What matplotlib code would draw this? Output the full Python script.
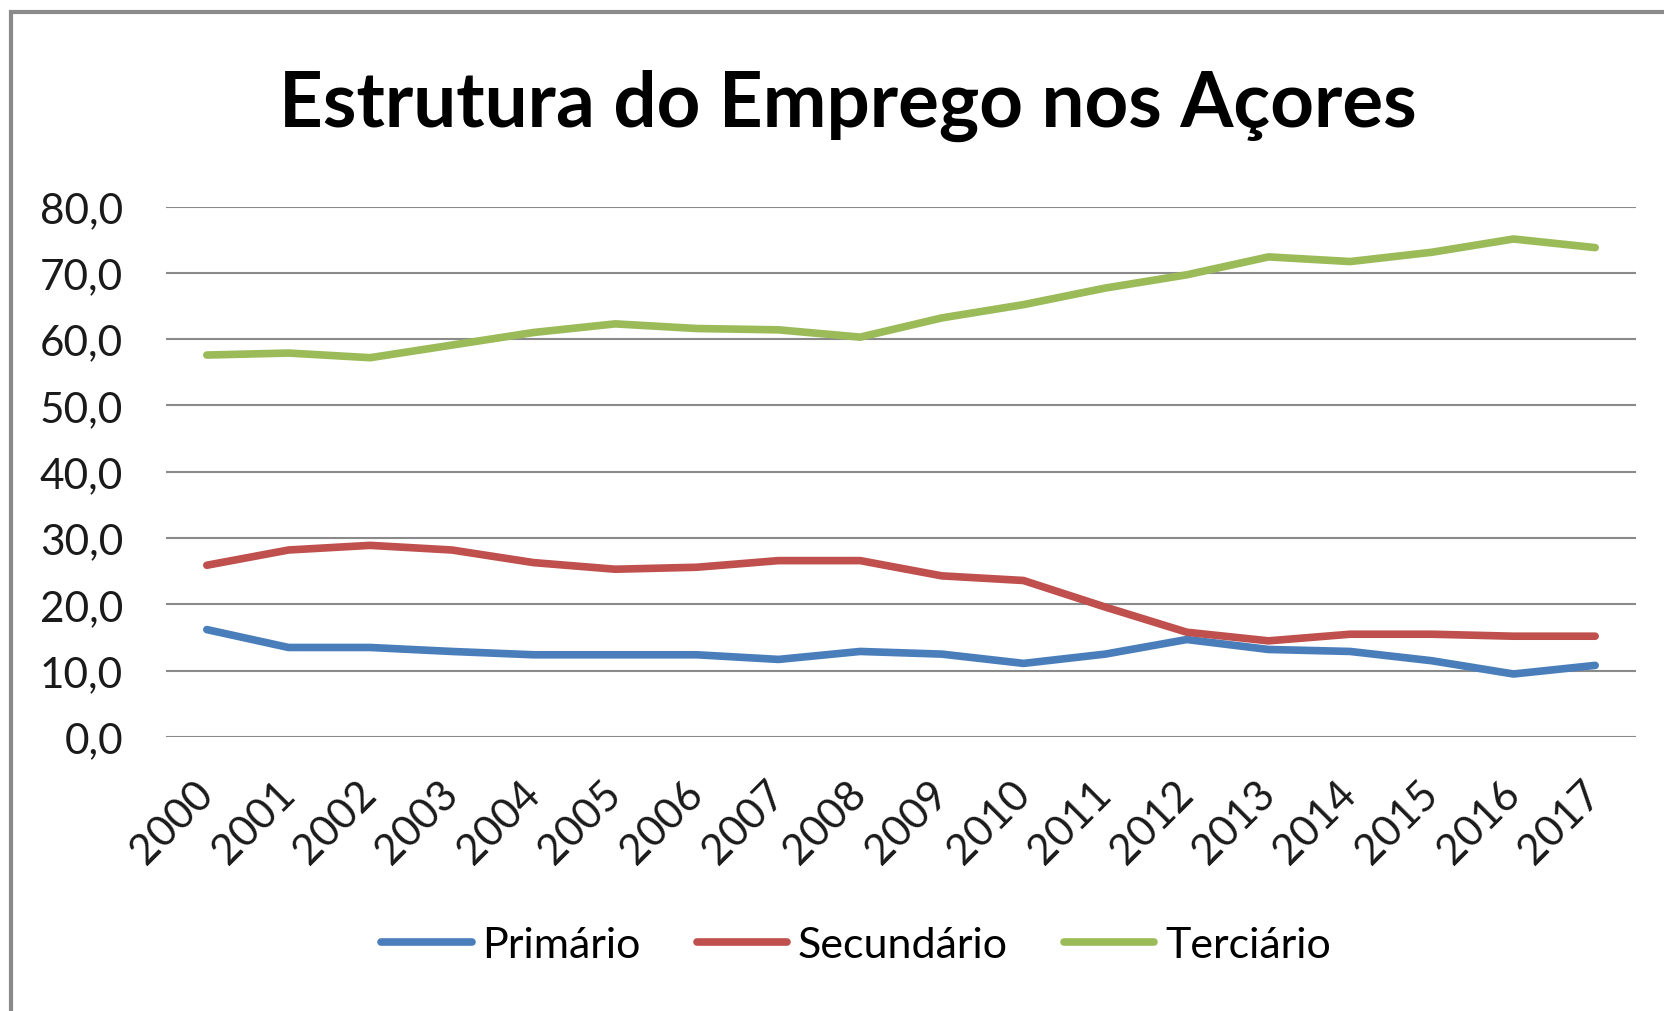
import matplotlib
matplotlib.use("Agg")
import matplotlib.pyplot as plt
import matplotlib.patches as patches
from matplotlib.ticker import FuncFormatter

plt.rcParams['font.family'] = ['Lato', 'DejaVu Sans']

# dados
anos = [str(a) for a in range(2000, 2018)]
primario = [16.2, 13.5, 13.5, 12.9, 12.4, 12.4, 12.4, 11.7, 12.9, 12.5,
            11.1, 12.5, 14.7, 13.2, 12.9, 11.5, 9.5, 10.8]
secundario = [25.9, 28.2, 28.9, 28.2, 26.3, 25.3, 25.6, 26.6, 26.6, 24.3,
              23.6, 19.6, 15.8, 14.5, 15.5, 15.5, 15.2, 15.2]
terciario = [57.6, 57.9, 57.2, 59.1, 61.0, 62.3, 61.6, 61.4, 60.3, 63.2,
             65.2, 67.7, 69.7, 72.4, 71.7, 73.1, 75.1, 73.8]
series = ['Primário', 'Secundário', 'Terciário']
cores = ['#4A7EBB', '#C0504D', '#9BBB59']

fig = plt.figure(figsize=(16.65, 10.12), dpi=100)
ax = fig.add_axes([166 / 1665, 1 - 738 / 1012, (1636 - 166) / 1665, (738 - 207.5) / 1012])

x = range(len(anos))
for nome, valores, cor in zip(series, [primario, secundario, terciario], cores):
    ax.plot(x, valores, color=cor, lw=5.5, label=nome, solid_capstyle='round',
            solid_joinstyle='round')

ax.set_xlim(-0.5, len(anos) - 0.5)
ax.set_ylim(0, 80)
ax.set_yticks(range(0, 81, 10))
ax.yaxis.set_major_formatter(FuncFormatter(lambda v, p: f'{v:.1f}'.replace('.', ',')))
ax.set_xticks(list(x))
ax.set_xticklabels(anos)

for s in ax.spines.values():
    s.set_visible(False)
ax.grid(axis='y', color='#8a8a8a', lw=1.5)
ax.set_axisbelow(True)
ax.tick_params(axis='y', length=0, pad=31, labelsize=30.5, labelcolor='#1a1a1a')
ax.tick_params(axis='x', length=0, pad=36, labelsize=30.5, labelcolor='#1a1a1a')
for lab in ax.get_xticklabels():
    lab.set_rotation(45)
    lab.set_ha('right')
    lab.set_va('center')
    lab.set_rotation_mode('anchor')

# título
fig.text(848 / 1665, 1 - 127 / 1012, 'Estrutura do Emprego nos Açores',
         ha='center', va='baseline', fontsize=55, fontweight='bold')

# legenda
fig.legend(loc='center', bbox_to_anchor=(856 / 1665, 1 - 946 / 1012), ncol=3,
           frameon=False, fontsize=31, handlelength=2.1, handletextpad=0.25,
           columnspacing=1.3)

# moldura do gráfico
fig.patches.append(patches.Rectangle((11.5 / 1665, -0.05), 1.1, 1 - 12.5 / 1012 + 0.05,
                                     transform=fig.transFigure, fill=False,
                                     edgecolor='#8a8a8a', lw=3, clip_on=False))

fig.savefig('out.png', dpi=100)
